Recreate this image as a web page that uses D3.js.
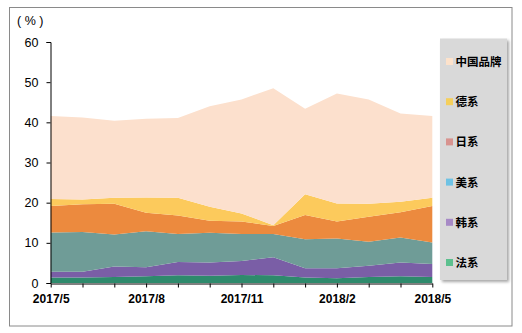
<!DOCTYPE html>
<html>
<head>
<meta charset="utf-8">
<script src="https://cdn.jsdelivr.net/npm/d3@7"></script>
<style>
  html, body { margin: 0; padding: 0; background: #fff; }
  svg { display: block; }
  text { font-family: "Liberation Sans", Arial, sans-serif; }
  .cjk { font-family: "Noto Sans CJK SC", sans-serif; }
</style>
</head>
<body>
<svg id="chart" width="522" height="333"></svg>
<script>
// ---- data ----
const months = ["2017/5","2017/6","2017/7","2017/8","2017/9","2017/10","2017/11","2017/12","2018/1","2018/2","2018/3","2018/4","2018/5"];
const tickLabels = ["2017/5","2017/8","2017/11","2018/2","2018/5"];
const yTicks = [0,10,20,30,40,50,60];
const seriesNames = ["法系","韩系","美系","日系","德系","中国品牌"];
const french  = [1.4,1.4,1.5,1.7,1.9,1.8,2.0,1.9,1.4,1.2,1.5,1.7,1.5];
const korean  = [1.4,1.4,2.6,2.2,3.3,3.3,3.5,4.5,2.3,2.5,2.8,3.4,3.2];
const american= [9.8,9.9,8.0,9.0,7.0,7.4,6.7,5.8,7.2,7.4,6.0,6.2,5.4];
const japanese= [6.6,6.9,7.6,4.6,4.6,3.0,3.1,2.0,6.0,4.2,6.2,6.3,9.1];
const german  = [1.7,1.2,1.5,3.8,4.4,3.5,2.0,0.2,5.2,4.5,3.2,2.6,2.0];
const chinese = [20.7,20.4,19.2,19.6,19.9,25.0,28.4,34.1,21.3,27.4,26.0,22.0,20.4];
const areaColors   = ["#2e8a6c","#7a5ea6","#6f9c97","#ec8a3e","#fcca5c","#fce0cd"];
const legendColors = ["#5cc08e","#a78ac6","#6ec2e4","#d8938f","#f5cf5b","#fde2cb"];

// ---- build table ----
const seriesArrays = [french, korean, american, japanese, german, chinese];
const table = months.map((m, i) => {
  const row = { month: m };
  seriesNames.forEach((s, k) => row[s] = seriesArrays[k][i]);
  return row;
});

const svg = d3.select("#chart");

// outer border
svg.append("rect").attr("x", 9.5).attr("y", 7.5).attr("width", 502.5).attr("height", 318.5)
  .attr("fill", "#fff").attr("stroke", "#8a8a8a").attr("stroke-width", 1);

const x = d3.scalePoint().domain(months).range([50.7, 432.3]);
const y = d3.scaleLinear().domain([0, 60]).range([283, 42]);

const stack = d3.stack().keys(seriesNames);
const layers = stack(table);

const area = d3.area()
  .x(d => x(d.data.month))
  .y0(d => y(d[0]))
  .y1(d => y(d[1]));

svg.append("g").selectAll("path").data(layers).join("path")
  .attr("d", area)
  .attr("fill", (d, i) => areaColors[i]);

// y axis
const yAxis = svg.append("g").attr("transform", "translate(50.5,0)")
  .call(d3.axisLeft(y).tickValues(yTicks).tickSize(4).tickPadding(8));
yAxis.select(".domain").attr("stroke", "#000");
yAxis.selectAll(".tick line").attr("stroke", "#000");
yAxis.selectAll(".tick text").attr("font-size", 12.5).attr("fill", "#000")
  .attr("font-family", "Liberation Sans, Arial, sans-serif");

// x axis
const xAxis = svg.append("g").attr("transform", "translate(0,283.5)")
  .call(d3.axisBottom(x).tickSize(4).tickSizeOuter(0).tickPadding(7)
    .tickFormat(d => tickLabels.includes(d) ? d : ""));
xAxis.select(".domain").attr("stroke", "#000");
xAxis.selectAll(".tick line").attr("stroke", "#000");
xAxis.selectAll(".tick text").attr("font-size", 12).attr("font-weight", "bold").attr("fill", "#000")
  .attr("font-family", "Liberation Sans, Arial, sans-serif");

// unit label
svg.append("text").attr("x", 17).attr("y", 25).attr("font-size", 12.5).attr("fill", "#000").text("( % )");

// legend
const defs = svg.append("defs");
const f = defs.append("filter").attr("id", "sh").attr("x", "-20%").attr("y", "-20%").attr("width", "140%").attr("height", "140%");
f.append("feGaussianBlur").attr("in", "SourceAlpha").attr("stdDeviation", 1.5);
f.append("feOffset").attr("dx", 2).attr("dy", 2).attr("result", "ob");
f.append("feComponentTransfer").append("feFuncA").attr("type", "linear").attr("slope", 0.35);
const fm = f.append("feMerge");
fm.append("feMergeNode");
fm.append("feMergeNode").attr("in", "SourceGraphic");

svg.append("rect").attr("x", 440).attr("y", 38.5).attr("width", 67).attr("height", 241.5)
  .attr("fill", "#d9d9d9").attr("filter", "url(#sh)");

const legendOrder = seriesNames.map((n, i) => ({ name: n, color: legendColors[i] })).reverse();
const lg = svg.append("g").selectAll("g").data(legendOrder).join("g")
  .attr("transform", (d, i) => `translate(446,${61.5 + i * 40.2})`);
lg.append("rect").attr("x", 0).attr("y", -3.5).attr("width", 7).attr("height", 7).attr("fill", d => d.color);
lg.append("text").attr("class", "cjk").attr("x", 9.5).attr("y", 4.5).attr("font-size", 11.5)
  .attr("font-weight", "bold").attr("fill", "#000").text(d => d.name);
</script>
</body>
</html>
